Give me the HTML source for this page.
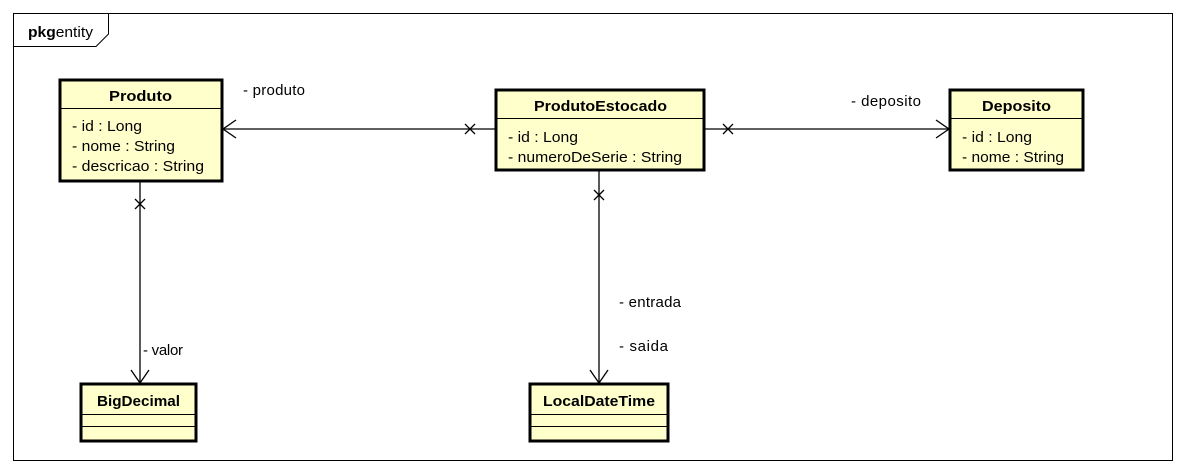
<!DOCTYPE html>
<html><head><meta charset="utf-8"><style>
html,body{margin:0;padding:0;background:#fff;}
svg{display:block;font-family:"Liberation Sans",Arial,sans-serif;}
</style></head><body>
<svg width="1186" height="473" viewBox="0 0 1186 473" xmlns="http://www.w3.org/2000/svg">
<rect x="0" y="0" width="1186" height="473" fill="#fff"/>
<rect x="13.5" y="13.5" width="1159" height="447" fill="none" stroke="#000" stroke-width="1"/>
<path d="M13.5 46.5 H96 L108.5 34 V13.5" fill="none" stroke="#000"/>
<text x="28" y="37" font-size="15" textLength="65" lengthAdjust="spacingAndGlyphs"><tspan font-weight="bold">pkg</tspan>entity</text>

<g stroke="#000" stroke-width="1.3" fill="none">
<line x1="223" y1="129" x2="495" y2="129"/>
<path d="M236 120 L223 129 L236 138"/>
<path d="M465 124 L475 134 M465 134 L475 124"/>
<line x1="704" y1="129" x2="949" y2="129"/>
<path d="M723 124 L733 134 M723 134 L733 124"/>
<path d="M936 120 L949 129 L936 138"/>
<line x1="140" y1="181" x2="140" y2="383"/>
<path d="M135 199 L145 209 M135 209 L145 199"/>
<path d="M131 370 L140 383 L149 370"/>
<line x1="599" y1="170" x2="599" y2="383"/>
<path d="M594 190 L604 200 M594 200 L604 190"/>
<path d="M590 370 L599 383 L608 370"/>
</g>
<g font-size="15" fill="#000" lengthAdjust="spacingAndGlyphs">
<text x="243" y="95" textLength="62">- produto</text>
<text x="851" y="106" textLength="70">- deposito</text>
<text x="143" y="355" textLength="40">- valor</text>
<text x="619" y="307" textLength="62">- entrada</text>
<text x="619" y="351" textLength="49">- saida</text>
</g>

<g stroke="#000" fill="#ffffcc">
<rect x="60" y="80" width="162" height="101" stroke-width="3"/>
<rect x="496" y="90" width="208" height="80" stroke-width="3"/>
<rect x="950" y="90" width="133" height="80" stroke-width="3"/>
<rect x="81" y="384" width="115" height="57" stroke-width="3"/>
<rect x="530" y="384" width="138" height="57" stroke-width="3"/>
</g>
<g stroke="#000" stroke-width="1">
<line x1="60" y1="108.5" x2="222" y2="108.5"/>
<line x1="496" y1="118.5" x2="704" y2="118.5"/>
<line x1="950" y1="118.5" x2="1083" y2="118.5"/>
<line x1="81" y1="414.5" x2="196" y2="414.5"/>
<line x1="81" y1="426.5" x2="196" y2="426.5"/>
<line x1="530" y1="414.5" x2="668" y2="414.5"/>
<line x1="530" y1="426.5" x2="668" y2="426.5"/>
</g>
<g font-size="15" font-weight="bold">
<text x="109" y="101" textLength="63" lengthAdjust="spacingAndGlyphs">Produto</text>
<text x="534" y="111" textLength="133" lengthAdjust="spacingAndGlyphs">ProdutoEstocado</text>
<text x="982" y="111" textLength="69" lengthAdjust="spacingAndGlyphs">Deposito</text>
<text x="97" y="406" textLength="83" lengthAdjust="spacingAndGlyphs">BigDecimal</text>
<text x="543" y="406" textLength="112" lengthAdjust="spacingAndGlyphs">LocalDateTime</text>
</g>
<g font-size="15">
<text x="72" y="131" textLength="70" lengthAdjust="spacingAndGlyphs">- id : Long</text>
<text x="72" y="151" textLength="103" lengthAdjust="spacingAndGlyphs">- nome : String</text>
<text x="72" y="171" textLength="132" lengthAdjust="spacingAndGlyphs">- descricao : String</text>
<text x="508" y="142" textLength="70" lengthAdjust="spacingAndGlyphs">- id : Long</text>
<text x="508" y="162" textLength="174" lengthAdjust="spacingAndGlyphs">- numeroDeSerie : String</text>
<text x="962" y="142" textLength="70" lengthAdjust="spacingAndGlyphs">- id : Long</text>
<text x="962" y="162" textLength="102" lengthAdjust="spacingAndGlyphs">- nome : String</text>
</g>
</svg>
</body></html>
